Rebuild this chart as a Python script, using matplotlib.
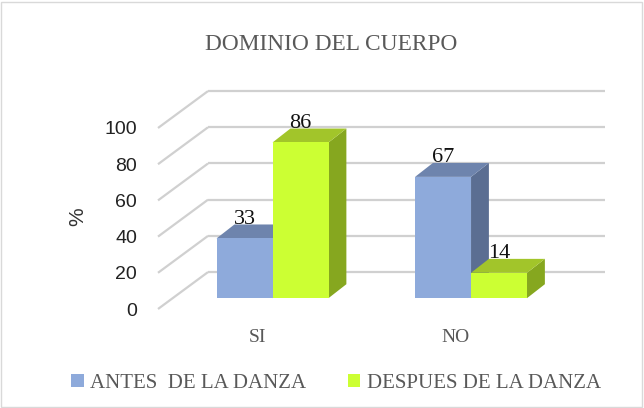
import matplotlib
matplotlib.use("Agg")
import matplotlib.pyplot as plt
from matplotlib.patches import Polygon, Rectangle, Patch

categories = ["SI", "NO"]
series_names = ["ANTES  DE LA DANZA", "DESPUES DE LA DANZA"]
antes = [33, 67]
despues = [86, 14]
yticks = [0, 20, 40, 60, 80, 100]
title = "DOMINIO DEL CUERPO"

front_cols = ["#8eaadb", "#ccff33"]
top_cols = ["#6e84ad", "#a2c52a"]
side_cols = ["#5b6e92", "#86a71f"]
grid_col = "#d0d0d0"
text_col = "#595959"
serif = "Liberation Serif"
sans = "Liberation Sans"

W, H = 644, 408
fig = plt.figure(figsize=(W / 100, H / 100), dpi=100)
fig.patch.set_facecolor("white")

# chart border
fig.add_artist(Rectangle((1 / W, 1 / H), 1 - 3 / W, 1 - 3 / H, transform=fig.transFigure,
                         fill=False, edgecolor="#d9d9d9", linewidth=1))

ax = fig.add_axes([158 / W, (H - 309) / H, 397 / W, 181 / H])
ax.set_xlim(-0.5, 1.5)
ax.set_ylim(0, 100)
for s in ax.spines.values():
    s.set_visible(False)
ax.set_xticks([])
ax.set_yticks(yticks)
ax.set_yticklabels([str(t) for t in yticks], fontfamily=sans, fontsize=14, color="#222222")
ax.tick_params(axis="y", length=0, pad=15)
ax.patch.set_alpha(0)
fig.text(78 / W, 1 - 217 / H, "%", rotation=90, ha="center", va="center",
         fontfamily=sans, fontsize=15, color="#333333")

# wall depth (oblique projection)
DX, DY = 0.252, 20.4
# bar depth and bar front offset
BDX, BDY = 0.09, 7.7
BX, BY = 0.077, 6.0
w = 0.282

# gridlines: left wall diagonals and back wall lines
for v in yticks:
    ax.plot([-0.5, -0.5 + DX], [v, v + DY], color=grid_col, lw=1.6, clip_on=False, zorder=1,
            solid_capstyle="butt")
    ax.plot([-0.5 + DX, 1.5 + DX], [v + DY, v + DY], color=grid_col, lw=1.6, clip_on=False,
            zorder=1, solid_capstyle="butt")

series = [antes, despues]
for i, cat in enumerate(categories):
    for j, vals in enumerate(series):
        v = vals[i]
        x0 = i + (j - 1) * w + BX
        zo = 3 + j
        side = Polygon([(x0 + w, BY), (x0 + w, BY + v), (x0 + w + BDX, BY + v + BDY),
                        (x0 + w + BDX, BY + BDY)], closed=True, facecolor=side_cols[j],
                       edgecolor="none", clip_on=False, zorder=zo)
        top = Polygon([(x0, BY + v), (x0 + w, BY + v), (x0 + w + BDX, BY + v + BDY),
                       (x0 + BDX, BY + v + BDY)], closed=True, facecolor=top_cols[j],
                      edgecolor="none", clip_on=False, zorder=zo)
        front = Rectangle((x0, BY), w, v, facecolor=front_cols[j], edgecolor="none",
                          clip_on=False, zorder=zo + 0.5)
        ax.add_patch(side)
        ax.add_patch(top)
        ax.add_patch(front)
        ax.text(x0 + w / 2, BY + v + BDY + 0.3, str(v), ha="center", va="baseline",
                fontfamily=serif, fontsize=16, color="#111111", zorder=10, clip_on=False)
    ax.text(i, -15.5, cat, ha="center", va="center", fontfamily=serif, fontsize=14,
            color=text_col, clip_on=False)

fig.text(331 / W, 1 - 45 / H, title, ha="center", va="center", fontfamily=serif,
         fontsize=16.8, color=text_col)

handles = [Patch(facecolor=c, edgecolor="none") for c in front_cols]
fig.legend(handles, series_names, loc="center", bbox_to_anchor=(336 / W, 1 - 383 / H), ncol=2,
           frameon=False, handlelength=0.6, handleheight=0.6, handletextpad=0.3,
           columnspacing=2.0, prop={"family": serif, "size": 15}, labelcolor=text_col)

fig.savefig("out.png", dpi=100)
